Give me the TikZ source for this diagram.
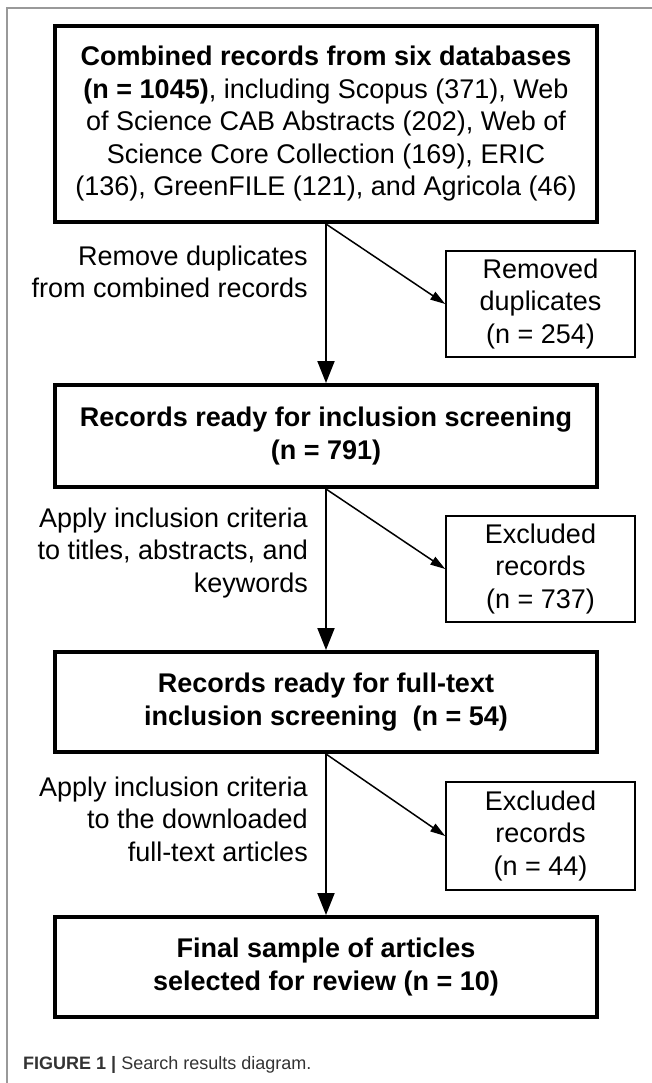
\documentclass[tikz,border=0pt]{standalone}
\usepackage{fontspec}
\setmainfont{Liberation Sans}
\usetikzlibrary{arrows.meta}

\tikzset{
  boxfont/.style={font=\fontsize{27}{32.5}\selectfont},
  mainbox/.style={draw, line width=4pt, minimum width=542pt, align=center, boxfont},
  sidebox/.style={draw, line width=1.6pt, minimum width=189pt, align=center, boxfont},
  steplabel/.style={anchor=east, align=right, inner sep=0pt, boxfont},
  mainarrow/.style={-{Triangle[width=17pt,length=22pt]}, line width=2pt},
  sidearrow/.style={-{Triangle[width=9pt,length=15pt]}, line width=1.5pt}
}

\begin{document}
\begin{tikzpicture}[x=1pt, y=-1pt]
  \useasboundingbox (0,0) rectangle (652,1083);
  % frame of the figure
  \draw[gray!80, line width=2pt] (652,8) -- (7,8) -- (7,1083);

  % main column
  \node[mainbox, minimum height=196pt] (combined) at (326,124)
    {\textbf{Combined records from six databases}\\
     \textbf{(n = 1045)}, including Scopus (371), Web\\
     of Science CAB Abstracts (202), Web of\\
     Science Core Collection (169), ERIC\\
     (136), GreenFILE (121), and Agricola (46)};
  \node[mainbox, minimum height=102pt] (screening) at (326,436)
    {\textbf{Records ready for inclusion screening}\\
     \textbf{(n = 791)}};
  \node[mainbox, minimum height=100pt] (fulltext) at (326,702)
    {\textbf{Records ready for full-text}\\
     \textbf{inclusion screening\ \ (n = 54)}};
  \node[mainbox, minimum height=100pt] (final) at (326,967)
    {\textbf{Final sample of articles}\\
     \textbf{selected for review (n = 10)}};

  % side column
  \node[sidebox, minimum height=106pt] (duplicates) at (540.5,304)
    {Removed\\ duplicates\\ (n = 254)};
  \node[sidebox, minimum height=106pt] (excludedA) at (540.5,569)
    {Excluded\\ records\\ (n = 737)};
  \node[sidebox, minimum height=108pt] (excludedB) at (540.5,836)
    {Excluded\\ records\\ (n = 44)};

  % step labels
  \node[steplabel] (stepA) at (308,272)
    {Remove duplicates\\ from combined records};
  \node[steplabel] (stepB) at (308,553)
    {Apply inclusion criteria\\ to titles, abstracts, and\\ keywords};
  \node[steplabel] (stepC) at (308,819)
    {Apply inclusion criteria\\ to the downloaded\\ full-text articles};

  \node[anchor=west, inner sep=0pt, text=black!80,
        font=\fontsize{18}{22}\selectfont] (caption) at (23,1065)
    {\textbf{FIGURE 1 |} Search results diagram.};

  \begin{scope}[mainarrow]
    \draw (combined) to (screening);
    \draw (screening) to (fulltext);
    \draw (fulltext) to (final);
  \end{scope}
  \begin{scope}[sidearrow]
    \draw (combined.south) to (duplicates.west);
    \draw (screening.south) to (excludedA.west);
    \draw (fulltext.south) to (excludedB.west);
  \end{scope}
\end{tikzpicture}
\end{document}
